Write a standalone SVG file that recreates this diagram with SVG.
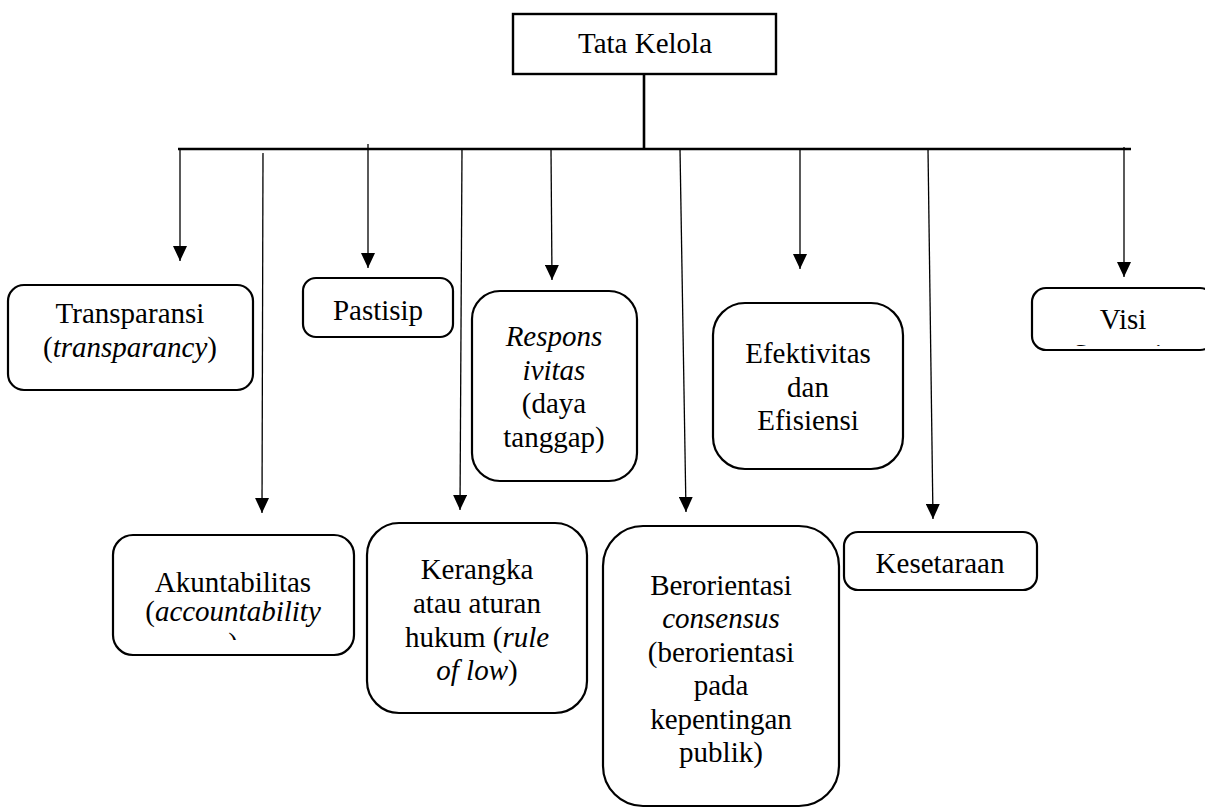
<svg xmlns="http://www.w3.org/2000/svg" width="1205" height="808" viewBox="0 0 1205 808">
<style>
  .box { fill: #fff; stroke: #000; stroke-width: 2.2; }
  .t { font-family: "Liberation Serif", "Times New Roman", Tinos, "Nimbus Roman", "DejaVu Serif", serif; font-size: 29px; fill: #000; text-anchor: middle; }
  .i { font-style: italic; }
  .drop { stroke: #000; stroke-width: 1.3; fill: none; marker-end: url(#arr); }
  .bus { stroke: #000; stroke-width: 2.6; fill: none; }
</style>
<defs>
  <marker id="arr" viewBox="0 0 15 14" refX="15" refY="7" markerWidth="15" markerHeight="14" markerUnits="userSpaceOnUse" orient="auto">
    <path d="M0,0 L15,7 L0,14 z" fill="#000"/>
  </marker>
  <clipPath id="clipAkun"><rect x="113" y="535" width="241" height="105"/></clipPath>
  <clipPath id="clipVisi"><rect x="1032" y="288" width="182" height="58"/></clipPath>
</defs>
<rect width="1205" height="808" fill="#fff"/>

<g id="connectors">
  <line class="bus" x1="644" y1="74" x2="644" y2="149"/>
  <line class="bus" x1="178" y1="149" x2="1131" y2="149"/>
  <line class="drop" x1="180" y1="149" x2="180" y2="261"/>
  <line class="drop" x1="263" y1="153" x2="262" y2="513"/>
  <line class="drop" x1="368" y1="144" x2="368" y2="268"/>
  <line class="drop" x1="462" y1="149" x2="460" y2="510"/>
  <line class="drop" x1="551" y1="149" x2="552" y2="280"/>
  <line class="drop" x1="680" y1="149" x2="686" y2="512"/>
  <line class="drop" x1="800" y1="149" x2="800" y2="269"/>
  <line class="drop" x1="928" y1="149" x2="933" y2="519"/>
  <line class="drop" x1="1124" y1="147" x2="1124" y2="277"/>
</g>

<g id="tata-kelola">
  <rect x="513" y="14" width="263" height="60" fill="#fff" stroke="#000" stroke-width="2.4"/>
  <text class="t" x="645" y="53" font-family="Liberation Serif, serif">Tata Kelola</text>
</g>

<g id="transparansi">
  <rect class="box" x="8" y="285" width="245" height="105" rx="16"/>
  <text class="t" x="130" y="323">Transparansi</text>
  <text class="t" x="130" y="357">(<tspan class="i">transparancy</tspan>)</text>
</g>

<g id="pastisip">
  <rect class="box" x="303" y="278" width="150" height="59" rx="13"/>
  <text class="t" x="378" y="320">Pastisip</text>
</g>

<g id="responsivitas">
  <rect class="box" x="472" y="291" width="165" height="190" rx="28"/>
  <text class="t i" x="554" y="346">Respons</text>
  <text class="t i" x="554" y="380">ivitas</text>
  <text class="t" x="554" y="413">(daya</text>
  <text class="t" x="554" y="447">tanggap)</text>
</g>

<g id="efektivitas">
  <rect class="box" x="713" y="303" width="190" height="166" rx="32"/>
  <text class="t" x="808" y="363">Efektivitas</text>
  <text class="t" x="808" y="397">dan</text>
  <text class="t" x="808" y="430">Efisiensi</text>
</g>

<g id="visi">
  <rect class="box" x="1032" y="288" width="182" height="62" rx="14"/>
  <g clip-path="url(#clipVisi)">
    <text class="t" x="1123" y="329">Visi</text>
    <text class="t" x="1123" y="364">Strategis</text>
  </g>
</g>

<g id="akuntabilitas">
  <rect class="box" x="113" y="535" width="241" height="120" rx="20"/>
  <g clip-path="url(#clipAkun)">
    <text class="t" x="233" y="592">Akuntabilitas</text>
    <text class="t" x="233" y="621">(<tspan class="i">accountability</tspan></text>
    <text class="t" x="233" y="653">)</text>
  </g>
</g>

<g id="kerangka">
  <rect class="box" x="367" y="523" width="220" height="190" rx="32"/>
  <text class="t" x="477" y="579">Kerangka</text>
  <text class="t" x="477" y="613">atau aturan</text>
  <text class="t" x="477" y="647">hukum (<tspan class="i">rule</tspan></text>
  <text class="t" x="477" y="680"><tspan class="i">of low</tspan>)</text>
</g>

<g id="berorientasi">
  <rect class="box" x="603" y="526" width="236" height="280" rx="40"/>
  <text class="t" x="721" y="595">Berorientasi</text>
  <text class="t i" x="721" y="628">consensus</text>
  <text class="t" x="721" y="662">(berorientasi</text>
  <text class="t" x="721" y="695">pada</text>
  <text class="t" x="721" y="729">kepentingan</text>
  <text class="t" x="721" y="762">publik)</text>
</g>

<g id="kesetaraan">
  <rect class="box" x="844" y="532" width="193" height="58" rx="14"/>
  <text class="t" x="940" y="573">Kesetaraan</text>
</g>
</svg>
